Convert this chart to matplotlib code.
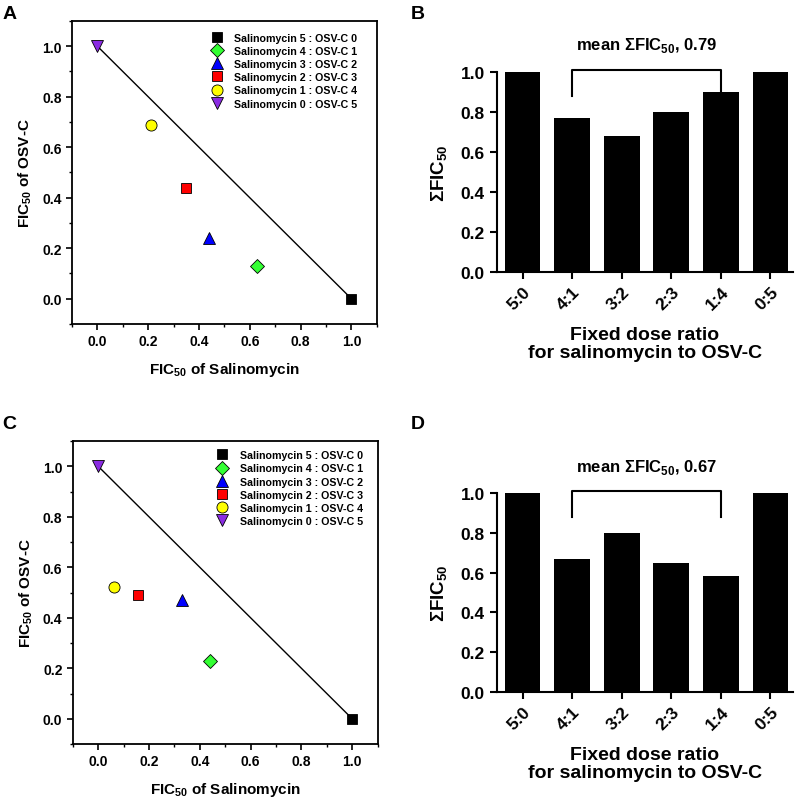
import numpy as np
import matplotlib
matplotlib.use("Agg")
import matplotlib.pyplot as plt
from matplotlib.ticker import MultipleLocator, FormatStrFormatter

plt.rcParams['font.family'] = ['Liberation Sans', 'DejaVu Sans']
plt.rcParams['font.weight'] = 'bold'
plt.rcParams['mathtext.fontset'] = 'custom'
plt.rcParams['mathtext.rm'] = 'Liberation Sans:bold'
plt.rcParams['mathtext.bf'] = 'Liberation Sans:bold'

# isobologram data (FIC50 salinomycin, FIC50 OSV-C)
legend_labels = ["Salinomycin 5 : OSV-C 0", "Salinomycin 4 : OSV-C 1",
                 "Salinomycin 3 : OSV-C 2", "Salinomycin 2 : OSV-C 3",
                 "Salinomycin 1 : OSV-C 4", "Salinomycin 0 : OSV-C 5"]
markers = ["s", "D", "^", "s", "o", "v"]
colors = ["#000000", "#33ff33", "#0000ff", "#ff0000", "#ffff00", "#8a2be2"]

fic_sal_A = [1.0, 0.63, 0.44, 0.35, 0.21, 0.0]
fic_osv_A = [0.0, 0.13, 0.24, 0.44, 0.69, 1.0]
fic_sal_C = [1.0, 0.44, 0.33, 0.155, 0.063, 0.0]
fic_osv_C = [0.0, 0.23, 0.47, 0.49, 0.52, 1.0]

# combination index bars
ratios = ["5:0", "4:1", "3:2", "2:3", "1:4", "0:5"]
sum_fic_B = [1.0, 0.77, 0.68, 0.80, 0.90, 1.0]
sum_fic_D = [1.0, 0.67, 0.80, 0.65, 0.58, 1.0]
mean_B = "0.79"
mean_D = "0.67"

fig = plt.figure(figsize=(8, 8.03), dpi=100)


def iso_panel(ax, xs, ys, leg_anchor):
    ax.plot([0, 1], [1, 0], color="black", lw=1.0, zorder=1)
    sizes = [6.5, 7, 8, 6.5, 8, 8.5]
    for i in range(len(xs)):
        ax.plot(xs[i], ys[i], linestyle="none", marker=markers[i], color=colors[i],
                markeredgecolor="black", markeredgewidth=0.6, markersize=sizes[i],
                label=legend_labels[i], zorder=3)
    ax.set_xlim(-0.1, 1.1)
    ax.set_ylim(-0.1, 1.1)
    ax.xaxis.set_major_locator(MultipleLocator(0.2))
    ax.yaxis.set_major_locator(MultipleLocator(0.2))
    ax.xaxis.set_minor_locator(MultipleLocator(0.1))
    ax.yaxis.set_minor_locator(MultipleLocator(0.1))
    ax.xaxis.set_major_formatter(FormatStrFormatter("%.1f"))
    ax.yaxis.set_major_formatter(FormatStrFormatter("%.1f"))
    ax.tick_params(which="major", direction="out", length=4, width=1.2, labelsize=10)
    ax.tick_params(which="minor", direction="out", length=2.5, width=1.0)
    for s in ax.spines.values():
        s.set_linewidth(1.3)
    ax.set_xlabel(r"FIC$_{50}$ of Salinomycin", fontsize=11, fontweight="bold", labelpad=8)
    ax.set_ylabel(r"FIC$_{50}$ of OSV-C", fontsize=11, fontweight="bold", labelpad=6)
    ax.legend(loc="upper right", bbox_to_anchor=leg_anchor, frameon=False,
              handletextpad=1.1, labelspacing=0.3, borderaxespad=0, borderpad=0,
              handlelength=1.0, prop={"weight": "bold", "size": 7.7})


def bar_panel(ax, vals, mean_txt, text_y):
    x = np.arange(len(ratios))
    ax.bar(x, vals, width=0.72, color="black", zorder=2)
    ax.set_xlim(-0.52, 5.45)
    ax.set_ylim(0, 1.0)
    ax.set_xticks(x)
    ax.set_xticklabels(ratios, rotation=45, ha="right", rotation_mode="anchor")
    ax.yaxis.set_major_locator(MultipleLocator(0.2))
    ax.yaxis.set_major_formatter(FormatStrFormatter("%.1f"))
    ax.tick_params(direction="out", length=5, width=1.5, labelsize=12.5)
    ax.spines["top"].set_visible(False)
    ax.spines["right"].set_visible(False)
    ax.spines["left"].set_linewidth(1.5)
    ax.spines["bottom"].set_linewidth(1.5)
    ax.set_ylabel(r"ΣFIC$_{50}$", fontsize=13.5, fontweight="bold", labelpad=8)
    ax.set_xlabel("Fixed dose ratio\nfor salinomycin to OSV-C", fontsize=14,
                  fontweight="bold", labelpad=10, linespacing=1.1)
    top = 1.01
    ax.plot([1, 1, 4, 4], [0.88, top, top, max(0.88, vals[4])], color="black",
            lw=1.5, clip_on=False, zorder=3)
    ax.text(2.5, text_y, r"mean ΣFIC$_{50}$, " + mean_txt, ha="center", va="center",
            fontsize=12, fontweight="bold", clip_on=False)


axA = fig.add_axes([0.09, 0.5953, 0.381, 0.3773])
iso_panel(axA, fic_sal_A, fic_osv_A, (0.935, 0.962))
axC = fig.add_axes([0.091, 0.0722, 0.381, 0.3773])
iso_panel(axC, fic_sal_C, fic_osv_C, (0.951, 0.970))

axB = fig.add_axes([0.621, 0.660, 0.37, 0.249])
bar_panel(axB, sum_fic_B, mean_B, 1.14)
axD = fig.add_axes([0.621, 0.137, 0.37, 0.248])
bar_panel(axD, sum_fic_D, mean_D, 1.13)

for lbl, (fx, fy) in zip("ABCD", [(0.003, 0.992), (0.513, 0.992), (0.003, 0.482), (0.513, 0.482)]):
    fig.text(fx, fy, lbl, fontsize=14, fontweight="bold", ha="left", va="top")

fig.savefig("out.png", dpi=100)
